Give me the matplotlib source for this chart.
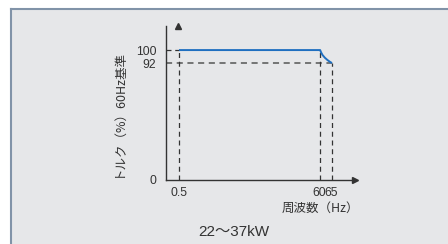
import matplotlib
matplotlib.use("Agg")
import matplotlib.pyplot as plt
import matplotlib.transforms as mtransforms
from matplotlib.lines import Line2D
from matplotlib.patches import Rectangle
import numpy as np

# ---- data ----
curve_x = [0.5, 60, 60.4, 61, 62, 63, 64, 65]
curve_y = [100, 100, 98.6, 97.0, 95.3, 94.0, 92.9, 92]
x_ticks = [0.5, 60, 65]
x_tick_labels = ["0.5", "60", "65"]
y_ticks = [0, 92, 100]
y_tick_labels = ["0", "92", "100"]
y_label = "トルク（%）60Hz基準"
x_label = "周波数（Hz）"
caption = "22〜37kW"

CJK = ["Noto Sans CJK JP", "DejaVu Sans"]
NUM = ["Liberation Sans", "Noto Sans CJK JP"]
BG = "#e6e7e9"
BORDER = "#8193a8"
AX = "#333333"
BLUE = "#1f6fc0"

W, H = 448, 244
fig = plt.figure(figsize=(W / 100, H / 100), dpi=100, facecolor="white")

# panel background with left/top border
fig.patches.append(Rectangle((11 / W, 0), 1 - 11 / W, 1 - 9 / H, transform=fig.transFigure,
                             facecolor=BG, edgecolor="none", zorder=-5))
fig.lines.append(Line2D([11 / W, 11 / W], [0, 1 - 9 / H], transform=fig.transFigure,
                        color=BORDER, lw=1.5, zorder=-4))
fig.lines.append(Line2D([11 / W, 1], [1 - 9 / H, 1 - 9 / H], transform=fig.transFigure,
                        color=BORDER, lw=1.5, zorder=-4))

left, right, bottom, top = 166, 355, 180, 26
ax = fig.add_axes([left / W, (H - bottom) / H, (right - left) / W, (bottom - top) / H])
ax.set_zorder(2)
ax.set_facecolor("none")

# schematic (stretched) torque axis, as in the original drawing
P = 1.2636
ax.set_yscale("function", functions=(lambda v: np.sign(v) * np.abs(v) ** P,
                                     lambda v: np.sign(v) * np.abs(v) ** (1 / P)))
ax.set_xlim(-4.98, 74.7)
ax.set_ylim(0, 114.4)

for s in ["top", "right"]:
    ax.spines[s].set_visible(False)
for s in ["left", "bottom"]:
    ax.spines[s].set_color(AX)
    ax.spines[s].set_linewidth(1.0)
ax.plot(1, 0, ">", color=AX, ms=4, transform=ax.get_yaxis_transform(), clip_on=False)
ax.plot(0, 1, "^", color=AX, ms=4, transform=ax.get_xaxis_transform(), clip_on=False)

dash = (0, (4, 3))
xmin = ax.get_xlim()[0]
# guide lines
ax.plot([xmin, curve_x[0]], [curve_y[0], curve_y[0]], color=AX, lw=0.9, ls=dash, zorder=2)
ax.plot([xmin, curve_x[-1]], [curve_y[-1], curve_y[-1]], color="#555555", lw=1.1, ls=dash, zorder=2)
for xv, yv in [(curve_x[0], curve_y[0]), (curve_x[1], curve_y[1]), (curve_x[-1], curve_y[-1])]:
    ax.plot([xv, xv], [0, yv], color=AX, lw=0.9, ls=dash, zorder=2)

ax.plot(curve_x, curve_y, color=BLUE, lw=1.4, zorder=3, solid_capstyle="butt")

ax.set_xticks(x_ticks)
ax.set_xticklabels(x_tick_labels, family=NUM, fontsize=8.8, color=AX)
ax.set_yticks(y_ticks)
ax.set_yticklabels(y_tick_labels, family=NUM, fontsize=8.8, color=AX)
ax.yaxis.set_minor_locator(matplotlib.ticker.NullLocator())
ax.tick_params(length=0, pad=7)
ax.tick_params(axis="x", pad=5)

# nudge the crowded 60 / 65 labels so they sit side by side
lbls = ax.get_xticklabels()
lbls[1].set_transform(lbls[1].get_transform() + mtransforms.ScaledTranslation(-1.0 / 100, 0, fig.dpi_scale_trans))
lbls[2].set_transform(lbls[2].get_transform() + mtransforms.ScaledTranslation(-0.5 / 100, 0, fig.dpi_scale_trans))

fig.text(118.5 / W, 1 - 113 / H, y_label, rotation=90, ha="center", va="center",
         family=CJK, fontsize=9, color=AX)
fig.text(320.5 / W, 1 - 208 / H, x_label, ha="center", va="center",
         family=CJK, fontsize=9, color=AX)
fig.text(234 / W, 1 - 232 / H, caption, ha="center", va="center",
         family=NUM, fontsize=11, color=AX)

fig.savefig("out.png", dpi=100, facecolor="white")
